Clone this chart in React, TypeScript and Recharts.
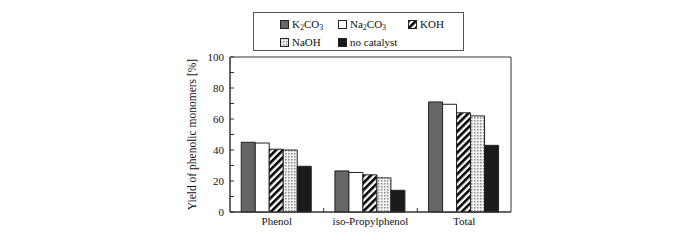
import React from 'react';
import { BarChart, Bar, XAxis, YAxis, ReferenceArea } from 'recharts';

// chart data
const categories = ['Phenol', 'iso-Propylphenol', 'Total'];
const seriesNames = ['K2CO3', 'Na2CO3', 'KOH', 'NaOH', 'no catalyst'];
const k2co3 = [45, 26.5, 71];
const na2co3 = [44.5, 25.5, 69.5];
const koh = [40.5, 24, 64];
const naoh = [40, 22, 62];
const noCatalyst = [29.5, 14, 43];
const yTicks = [0, 10, 20, 30, 40, 50, 60, 70, 80, 90, 100];
const yTitle = 'Yield of phenolic monomers [%]';

const seriesValues = [k2co3, na2co3, koh, naoh, noCatalyst];
const seriesFills = ['#69646a', '#ffffff', 'url(#stripes)', 'url(#dots)', '#1c1b19'];

const data = categories.map((cat, i) => {
    const row: Record<string, string | number> = { cat };
    seriesNames.forEach((name, s) => {
        row[name] = seriesValues[s][i];
    });
    return row;
});

const FONT = '"Liberation Serif", "Times New Roman", serif';
const INK = '#111';

// put digits of a chemical formula in subscript
function Formula({ text }: { text: string }) {
    if (text.includes(' ')) return <span>{text}</span>;
    const parts = text.split(/(\d+)/).filter(Boolean);
    return (
        <span>
            {parts.map((p, i) =>
                /^\d+$/.test(p) ? (
                    <sub key={i} style={{ fontSize: '8px', verticalAlign: '-2px' }}>{p}</sub>
                ) : (
                    <span key={i}>{p}</span>
                )
            )}
        </span>
    );
}

function CategoryTick(props: any) {
    const { x, y, payload, index } = props;
    const half = payload?.offset ?? 0;
    return (
        <g>
            <text x={x} y={y} dy={10} textAnchor="middle" fill={INK} fontSize={11} fontFamily={FONT}>
                {payload.value}
            </text>
            {index < categories.length - 1 && (
                <line x1={x + half} x2={x + half} y1={y - 3} y2={y - 7} stroke="#333" strokeWidth={1} />
            )}
        </g>
    );
}

function ValueTick(props: any) {
    const { x, y, payload } = props;
    if (payload.value % 20 !== 0) return <g />;
    return (
        <text x={x} y={y} dy="0.36em" textAnchor="end" fill={INK} fontSize={11} fontFamily={FONT}>
            {payload.value}
        </text>
    );
}

function Swatch({ fill }: { fill: string }) {
    return (
        <svg width={9} height={9} style={{ marginRight: 3, verticalAlign: '-1px' }}>
            <rect x={0.5} y={0.5} width={8} height={8} fill={fill} stroke="#222" strokeWidth={1} />
        </svg>
    );
}

function LegendBox() {
    const cols = [26, 84, 154];
    return (
        <div
            style={{
                position: 'absolute',
                left: 253,
                top: 12,
                width: 209,
                height: 37,
                border: '1px solid #555',
                fontFamily: FONT,
                fontSize: 11,
                color: INK,
            }}
        >
            {seriesNames.map((name, i) => {
                const col = i % 3;
                const row = Math.floor(i / 3);
                return (
                    <div
                        key={name}
                        style={{
                            position: 'absolute',
                            left: cols[col],
                            top: row === 0 ? 4 : 22,
                            whiteSpace: 'nowrap',
                            lineHeight: '14px',
                        }}
                    >
                        <Swatch fill={seriesFills[i]} />
                        <Formula text={name} />
                    </div>
                );
            })}
        </div>
    );
}

export default function App() {
    return (
        <div style={{ position: 'absolute', left: 0, top: 0, width: 700, height: 240, background: '#fff' }}>
            <BarChart
                width={700}
                height={240}
                data={data}
                margin={{ top: 57, right: 189, left: 180, bottom: 0 }}
                barCategoryGap="12%"
                barGap={0}
            >
                <defs>
                    <pattern id="stripes" patternUnits="userSpaceOnUse" width={5} height={5} patternTransform="rotate(45)">
                        <rect width={5} height={5} fill="#fff" />
                        <rect width={2.6} height={5} fill="#000" />
                    </pattern>
                    <pattern id="dots" patternUnits="userSpaceOnUse" width={3} height={3}>
                        <rect width={3} height={3} fill="#f4f4f4" />
                        <rect width={1.5} height={1.5} fill="#8a8a8a" />
                    </pattern>
                </defs>
                <ReferenceArea y1={0} y2={100} fill="none" stroke="#333" strokeWidth={1} />
                <XAxis
                    dataKey="cat"
                    height={28}
                    axisLine={{ stroke: '#333' }}
                    tickLine={false}
                    tickSize={0}
                    tickMargin={3}
                    tick={<CategoryTick />}
                    interval={0}
                />
                <YAxis
                    width={50}
                    domain={[0, 100]}
                    ticks={yTicks}
                    interval={0}
                    axisLine={{ stroke: '#333' }}
                    tickLine={{ stroke: '#333' }}
                    tickSize={-4}
                    tickMargin={10}
                    tick={<ValueTick />}
                    label={{
                        value: yTitle,
                        angle: -90,
                        position: 'center',
                        dx: -13,
                        style: { fontFamily: FONT, fontSize: 11.5, fill: INK, textAnchor: 'middle' },
                    }}
                />
                {seriesNames.map((name, i) => (
                    <Bar
                        key={name}
                        dataKey={name}
                        fill={seriesFills[i]}
                        stroke="#222"
                        strokeWidth={1}
                        isAnimationActive={false}
                    />
                ))}
            </BarChart>
            <LegendBox />
        </div>
    );
}
